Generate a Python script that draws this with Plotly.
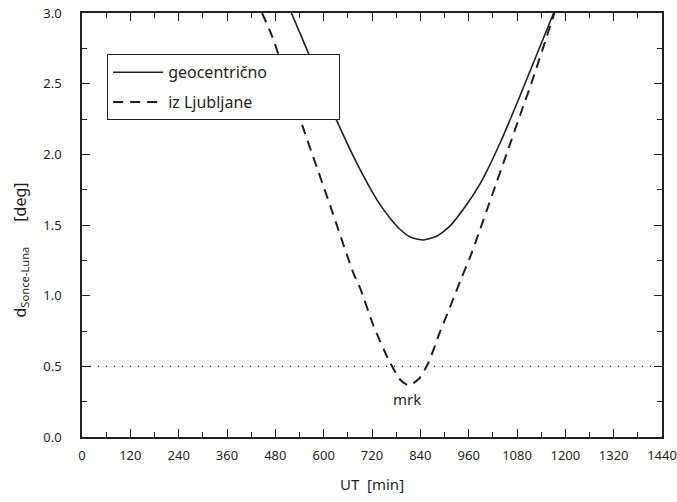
import plotly.graph_objects as go

# geocentric Sun-Moon separation
geo_t = [520, 560, 600, 633, 680, 732, 765, 790, 815, 848, 880, 914, 956, 990, 1038, 1084, 1171]
geo_d = [3.00, 2.73, 2.45, 2.235, 1.95, 1.68, 1.548, 1.468, 1.415, 1.394, 1.42, 1.494, 1.648, 1.80, 2.08, 2.39, 3.00]

# topocentric, from Ljubljana
lj_t = [447, 472, 542, 617, 674, 691, 724, 761, 790, 811, 836, 860, 889, 918, 940,
        964, 985, 1018, 1055, 1096, 1113, 1173]
lj_d = [3.00, 2.835, 2.245, 1.63, 1.158, 1.05, 0.785, 0.548, 0.405, 0.366, 0.41, 0.525,
        0.745, 0.95, 1.11, 1.276, 1.441, 1.71, 2.01, 2.345, 2.48, 3.00]

limit_t = [0, 1440]
limit_d = [0.5, 0.5]

x_ticks = list(range(0, 1441, 120))
y_ticks = [0.0, 0.5, 1.0, 1.5, 2.0, 2.5, 3.0]

FONT = "Noto Sans"
INK = "#231f20"
PAD = "&nbsp;" * 16
NB = "&nbsp;"

fig = go.Figure()
fig.add_trace(go.Scatter(x=limit_t, y=limit_d, mode="lines", showlegend=False,
                         line=dict(color=INK, width=1.3, dash="1px,7px")))
fig.add_trace(go.Scatter(x=geo_t, y=geo_d, mode="lines", name="geocentrično" + PAD, legendgroup="g",
                         line=dict(color=INK, width=1.6, shape="spline", smoothing=0.6)))
fig.add_trace(go.Scatter(x=lj_t, y=lj_d, mode="lines", name="iz Ljubljane", legendgroup="l",
                         line=dict(color=INK, width=2, dash="10px,7px", shape="spline", smoothing=0.6)))

fig.add_annotation(x=807, y=0.27, text="mrk", showarrow=False,
                   font=dict(family=FONT, size=15, color=INK))

axis_common = dict(showline=True, linecolor=INK, linewidth=1.5, mirror="allticks",
                   ticks="inside", ticklen=8, tickwidth=1.2, tickcolor=INK,
                   showgrid=False, zeroline=False, automargin=False,
                   tickfont=dict(family=FONT, size=13, color=INK))

fig.update_xaxes(range=[0, 1440], tickvals=x_ticks,
                 minor=dict(ticks="inside", dtick=60, ticklen=5, tickwidth=1.2, tickcolor=INK),
                 ticklabelstandoff=6,
                 title=dict(text="UT" + NB + " [min]", font=dict(family=FONT, size=15, color=INK), standoff=16),
                 **axis_common)
fig.update_yaxes(range=[0, 3], tickvals=y_ticks, tickformat=".1f",
                 minor=dict(ticks="inside", dtick=0.25, ticklen=5, tickwidth=1.2, tickcolor=INK),
                 ticklabelstandoff=16,
                 title=dict(text="d<sub>Sonce-Luna</sub>" + NB * 6 + "[deg]" + NB * 12,
                            font=dict(family=FONT, size=16, color=INK), standoff=13),
                 **axis_common)

fig.update_layout(
    width=677, height=502,
    margin=dict(l=82, r=15, t=13, b=65),
    plot_bgcolor="white", paper_bgcolor="white",
    font=dict(family=FONT, color=INK),
    legend=dict(x=0.043, y=0.903, xanchor="left", yanchor="top",
                bordercolor=INK, borderwidth=1.2, bgcolor="white",
                font=dict(family=FONT, size=16, color=INK),
                itemwidth=50, tracegroupgap=6),
)

fig.write_html("out.html", config={"displayModeBar": False},
               post_script="document.body.style.margin='0';")
